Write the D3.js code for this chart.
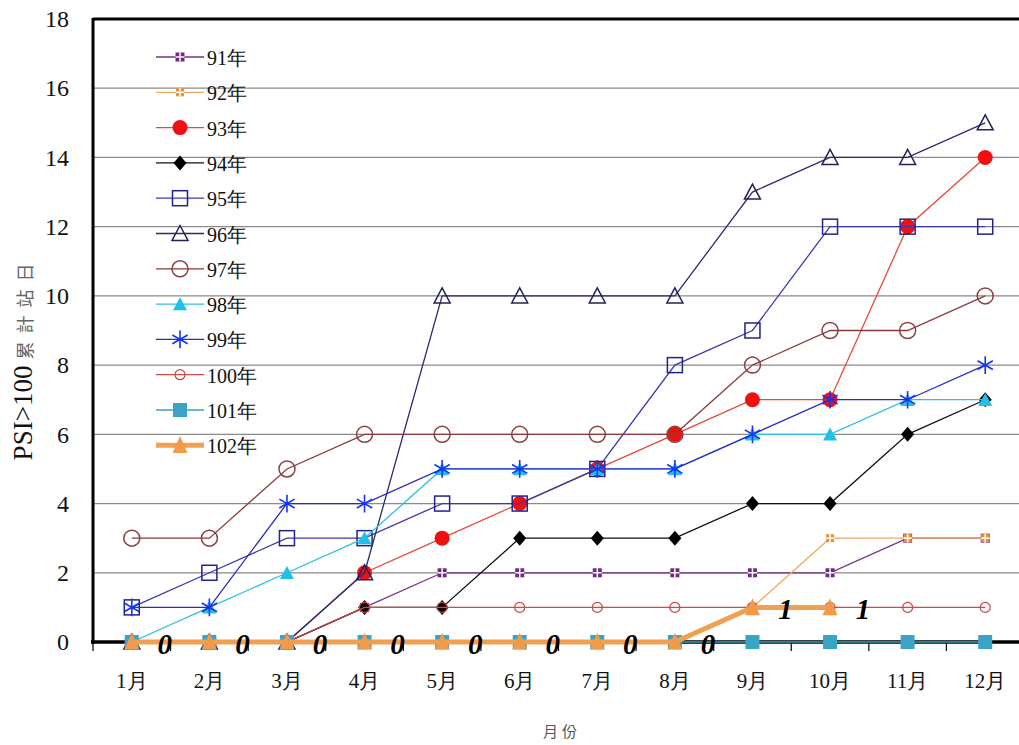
<!DOCTYPE html>
<html><head><meta charset="utf-8">
<script src="https://cdn.jsdelivr.net/npm/d3@7"></script>
<style>body{margin:0;background:#fff}svg{display:block}</style>
</head><body>
<script>
const months = ["1月","2月","3月","4月","5月","6月","7月","8月","9月","10月","11月","12月"];
const yTicks = [0,2,4,6,8,10,12,14,16,18];
const seriesNames = ["91年","92年","93年","94年","95年","96年","97年","98年","99年","100年","101年","102年"];
const v91  = [0,0,0,1,2,2,2,2,2,2,3,3];
const v92  = [0,0,0,0,0,0,0,0,1,3,3,3];
const v93  = [0,0,0,2,3,4,5,6,7,7,12,14];
const v94  = [0,0,0,1,1,3,3,3,4,4,6,7];
const v95  = [1,2,3,3,4,4,5,8,9,12,12,12];
const v96  = [0,0,0,2,10,10,10,10,13,14,14,15];
const v97  = [3,3,5,6,6,6,6,6,8,9,9,10];
const v98  = [0,1,2,3,5,5,5,5,6,6,7,7];
const v99  = [1,1,4,4,5,5,5,5,6,7,7,8];
const v100 = [0,0,0,1,1,1,1,1,1,1,1,1];
const v101 = [0,0,0,0,0,0,0,0,0,0,0,0];
const v102 = [0,0,0,0,0,0,0,0,1,1];
const labels102 = ["0","0","0","0","0","0","0","0","1","1"];
const yTitle = "PSI>100";
const yTitleCJK = "累計站日";
const xTitle = "月份";

const W = 1019, H = 745;
const SERIF = "'Liberation Serif'";
const CJK = "'Noto Sans CJK TC'";
const svg = d3.select("body").append("svg").attr("width", W).attr("height", H);
const x = d3.scaleBand().domain(months).range([93, 1024]);
const cx = m => x(m) + x.bandwidth()/2;
const y = d3.scaleLinear().domain([0,18]).range([642, 19]);

// gridlines
svg.append("g").selectAll("line").data(yTicks.filter(t => t > 0 && t < 18)).join("line")
  .attr("x1", 93).attr("x2", W).attr("y1", d => y(d)).attr("y2", d => y(d))
  .attr("stroke", "#8a8a8a").attr("stroke-width", 1.2);

// y axis
const ya = svg.append("g").attr("transform", "translate(93,0)")
  .call(d3.axisLeft(y).tickValues(yTicks).tickSize(0).tickPadding(24));
ya.attr("font-family", null);
ya.select(".domain").remove();
ya.selectAll(".tick text").style("font-family", SERIF).attr("font-size", 24).attr("fill", "#111");

// x axis
const xa = svg.append("g").attr("transform", "translate(0,642)")
  .call(d3.axisBottom(x).tickSize(0).tickPadding(31));
xa.attr("font-family", null);
xa.select(".domain").remove();
xa.selectAll(".tick text").style("font-family", SERIF).attr("font-size", 21).attr("fill", "#111");
svg.append("g").selectAll("line").data(d3.range(0, 13)).join("line")
  .attr("x1", i => 93 + i * x.step()).attr("x2", i => 93 + i * x.step())
  .attr("y1", 642).attr("y2", 651).attr("stroke", "#000").attr("stroke-width", 1.2);

// frame
svg.append("line").attr("x1", 93).attr("x2", W).attr("y1", 19).attr("y2", 19).attr("stroke", "#000").attr("stroke-width", 3);
svg.append("line").attr("x1", 93).attr("x2", 93).attr("y1", 18).attr("y2", 644).attr("stroke", "#000").attr("stroke-width", 3);
svg.append("line").attr("x1", 91).attr("x2", W).attr("y1", 642).attr("y2", 642).attr("stroke", "#000").attr("stroke-width", 3.5);

// axis titles
const yt = svg.append("text").attr("transform", "translate(32,358) rotate(-90)").attr("text-anchor", "middle")
  .style("font-family", SERIF).attr("font-size", 27).attr("fill", "#111");
yt.append("tspan").text(yTitle);
yt.append("tspan").attr("dx", 6).style("font-family", CJK).attr("font-size", 18)
  .attr("letter-spacing", 8).attr("fill", "#666").text(yTitleCJK);
svg.append("text").attr("x", 562).attr("y", 737).attr("text-anchor", "middle")
  .style("font-family", CJK).attr("font-size", 15).attr("letter-spacing", 4).attr("fill", "#555").text(xTitle);

// marker helpers
function drawMarker(g, kind, px, py) {
  const t = `translate(${px},${py})`;
  switch (kind.type) {
    case "quad": {
      const s = kind.s;
      g.append("rect").attr("x", px - s/2).attr("y", py - s/2).attr("width", s).attr("height", s).attr("fill", kind.fill);
      g.append("line").attr("x1", px - s/2).attr("x2", px + s/2).attr("y1", py).attr("y2", py).attr("stroke", "#fff").attr("stroke-width", 1.5);
      g.append("line").attr("x1", px).attr("x2", px).attr("y1", py - s/2).attr("y2", py + s/2).attr("stroke", "#fff").attr("stroke-width", 1.5);
      break; }
    case "circle":
      g.append("circle").attr("cx", px).attr("cy", py).attr("r", kind.r)
        .attr("fill", kind.fill || "none").attr("stroke", kind.stroke || "none").attr("stroke-width", kind.sw || 1.5);
      break;
    case "square":
      g.append("rect").attr("x", px - kind.s/2).attr("y", py - kind.s/2).attr("width", kind.s).attr("height", kind.s)
        .attr("fill", kind.fill || "none").attr("stroke", kind.stroke || "none").attr("stroke-width", kind.sw || 1.5);
      break;
    case "tri":
      g.append("path").attr("transform", `translate(${px},${py+1})`)
        .attr("d", `M0,${-kind.h*0.6}L${kind.w/2},${kind.h*0.4}L${-kind.w/2},${kind.h*0.4}Z`)
        .attr("fill", kind.fill || "none").attr("stroke", kind.stroke || "none").attr("stroke-width", kind.sw || 1.5);
      break;
    case "diamond":
      g.append("path").attr("transform", t)
        .attr("d", `M0,${-kind.h/2}L${kind.w/2},0L0,${kind.h/2}L${-kind.w/2},0Z`).attr("fill", kind.fill);
      break;
    case "aster":
      g.append("path").attr("transform", t).attr("d", d3.symbol().type(d3.symbolAsterisk).size(kind.size)())
        .attr("fill", "none").attr("stroke", kind.stroke).attr("stroke-width", 1.6);
      break;
  }
}

const series = [
  {name: seriesNames[0], vals: v91, color: "#7a2f8a", w: 1.3, marker: {type: "quad", s: 9, fill: "#6e2a80"}},
  {name: seriesNames[1], vals: v92, color: "#f0a860", w: 1.3, marker: {type: "quad", s: 8, fill: "#e8923a"}},
  {name: seriesNames[2], vals: v93, color: "#e8483a", w: 1.3, marker: {type: "circle", r: 7.5, fill: "#f01010"}},
  {name: seriesNames[3], vals: v94, color: "#111111", w: 1.3, marker: {type: "diamond", w: 13, h: 15, fill: "#000"}},
  {name: seriesNames[4], vals: v95, color: "#3a3ab0", w: 1.3, marker: {type: "square", s: 15, stroke: "#22228a"}},
  {name: seriesNames[5], vals: v96, color: "#2a2a70", w: 1.3, marker: {type: "tri", w: 16, h: 15, stroke: "#22225a"}},
  {name: seriesNames[6], vals: v97, color: "#8a3a3a", w: 1.3, marker: {type: "circle", r: 8, stroke: "#8a4040"}},
  {name: seriesNames[7], vals: v98, color: "#30c0e0", w: 1.3, marker: {type: "tri", w: 14, h: 13, fill: "#20c0ea"}},
  {name: seriesNames[8], vals: v99, color: "#2a2ac8", w: 1.3, marker: {type: "aster", size: 220, stroke: "#1535ee"}},
  {name: seriesNames[9], vals: v100, color: "#d04848", w: 1.2, marker: {type: "circle", r: 5, stroke: "#d04040", sw: 1.2}},
  {name: seriesNames[10], vals: v101, color: "#3aa0c0", w: 1.3, marker: {type: "square", s: 14, fill: "#3aa4c4"}},
  {name: seriesNames[11], vals: v102, color: "#f0a050", w: 5, marker: {type: "tri", w: 15, h: 17, fill: "#f09a4a"}}
];

const line = d3.line().x(d => cx(d.m)).y(d => y(d.v));
const plot = svg.append("g");
series.forEach(s => {
  const pts = s.vals.map((v, i) => ({m: months[i], v}));
  const g = plot.append("g");
  g.append("path").attr("d", line(pts)).attr("fill", "none").attr("stroke", s.color).attr("stroke-width", s.w);
  pts.forEach(p => drawMarker(g, s.marker, cx(p.m), y(p.v)));
});

// data labels for 102年
svg.append("g").selectAll("text").data(v102.map((v, i) => ({m: months[i], v, t: labels102[i]}))).join("text")
  .attr("x", d => cx(d.m) + 33).attr("y", d => y(d.v) + 12).attr("text-anchor", "middle")
  .style("font-family", SERIF).attr("font-style", "italic").attr("font-weight", "bold")
  .attr("font-size", 29).attr("fill", "#000").text(d => d.t);

// legend
const lg = svg.append("g");
series.forEach((s, i) => {
  const ly = 57 + i * 35.3;
  const g = lg.append("g");
  g.append("line").attr("x1", 156).attr("x2", 204).attr("y1", ly).attr("y2", ly).attr("stroke", s.color).attr("stroke-width", s.w);
  drawMarker(g, s.marker, 180, ly);
  g.append("text").attr("x", 207).attr("y", ly + 8).style("font-family", SERIF)
    .attr("font-size", 20).attr("fill", "#111").text(s.name);
});
</script>
</body></html>
